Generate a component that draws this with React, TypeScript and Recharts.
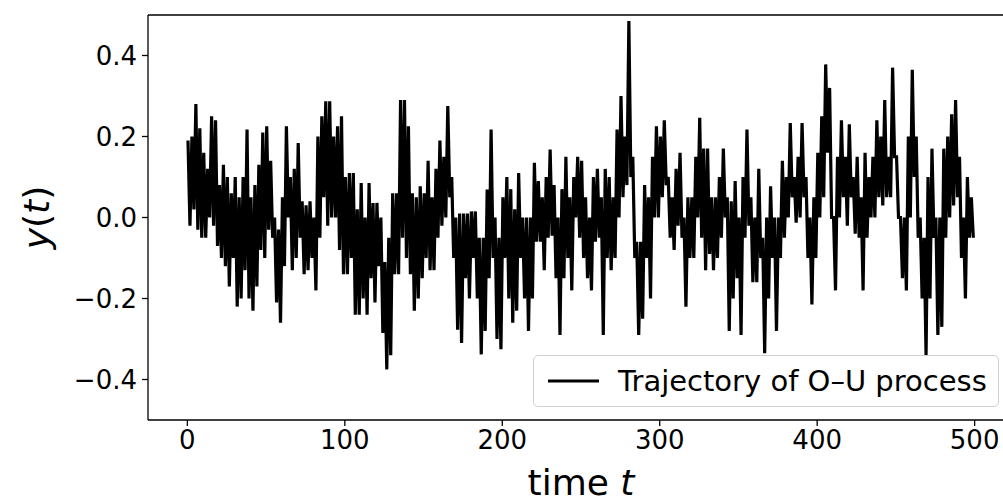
import React from 'react';
import { LineChart, Line, XAxis, YAxis, Legend, Label, ReferenceLine } from 'recharts';

const FONT = '"DejaVu Sans", Verdana, sans-serif';

const X_TICKS = [0, 100, 200, 300, 400, 500];
const Y_TICKS = [-0.4, -0.2, 0.0, 0.2, 0.4];

// the trajectory is too dense to follow stroke by stroke, so it is read as the
// band it covers: highest and lowest y in every 2.5 time units (10 per row = 25 units)
const WINDOW = 2.5;

const upperEnvelope = [
    0.19, 0.2, 0.28, 0.22, 0.16, 0.12, 0.25, 0.24, 0.08, 0.13,
    0.1, 0.06, 0.1, 0.05, 0.1, 0.217, 0.05, 0.08, 0.13, 0.21,
    0.225, 0.14, 0.0, -0.03, 0.05, 0.225, 0.1, 0.12, 0.184, 0.04,
    0.03, 0.04, 0.0, 0.2, 0.25, 0.287, 0.287, 0.2, 0.225, 0.25,
    0.1, 0.11, 0.11, 0.02, 0.085, 0.0, 0.085, 0.036, 0.036, 0.0,
    -0.11, -0.05, 0.06, 0.06, 0.29, 0.29, 0.225, 0.06, 0.05, 0.077,
    0.06, 0.14, 0.05, 0.12, 0.19, 0.15, 0.275, 0.1, 0.0, 0.01,
    0.01, 0.01, 0.015, 0.015, -0.05, -0.05, 0.069, 0.217, 0.0, -0.05,
    0.05, 0.1, 0.07, 0.02, 0.11, 0.0, 0.0, 0.0, 0.135, 0.09,
    0.05, 0.1, 0.168, 0.08, 0.0, 0.07, 0.15, 0.05, 0.1, 0.15,
    0.14, 0.05, 0.0, 0.1, 0.12, 0.05, 0.12, 0.1, 0.05, 0.217,
    0.3, 0.2, 0.485, 0.15, -0.06, -0.06, 0.08, 0.05, 0.15, 0.225,
    0.2, 0.24, 0.1, 0.05, 0.12, 0.16, 0.0, 0.05, 0.05, 0.15,
    0.246, 0.17, 0.17, 0.05, 0.05, 0.1, 0.17, 0.05, 0.04, 0.09,
    0.0, 0.1, 0.217, 0.05, 0.0, 0.12, -0.05, 0.0, 0.077, 0.0,
    0.0, 0.14, 0.1, 0.233, 0.1, 0.15, 0.233, 0.1, 0.0, 0.05,
    0.16, 0.25, 0.378, 0.32, 0.0, 0.15, 0.24, 0.15, 0.23, 0.1,
    0.15, 0.05, 0.16, 0.1, 0.15, 0.24, 0.2, 0.29, 0.15, 0.37,
    0.15, 0.0, 0.0, 0.2, 0.365, 0.2, 0.0, -0.05, 0.1, 0.17,
    0.0, 0.0, 0.17, 0.2, 0.255, 0.29, 0.15, 0.0, 0.1, 0.05,
];

const lowerEnvelope = [
    -0.02, 0.02, -0.03, -0.05, -0.05, 0.0, -0.02, -0.07, -0.1, -0.12,
    -0.17, -0.1, -0.22, -0.2, -0.13, -0.2, -0.23, -0.17, -0.08, -0.1,
    -0.03, -0.05, -0.21, -0.26, -0.12, 0.0, -0.13, -0.1, -0.05, -0.14,
    -0.13, -0.1, -0.18, -0.05, 0.05, -0.02, 0.0, 0.0, -0.08, -0.14,
    -0.14, -0.1, -0.24, -0.24, -0.2, -0.24, -0.15, -0.21, -0.12, -0.285,
    -0.375, -0.34, -0.14, -0.14, -0.05, -0.1, -0.14, -0.23, -0.2, -0.15,
    -0.1, -0.13, -0.13, -0.05, -0.02, 0.0, 0.05, -0.1, -0.277, -0.31,
    -0.15, -0.2, -0.1, -0.2, -0.338, -0.28, -0.15, -0.1, -0.3, -0.325,
    -0.1, -0.2, -0.26, -0.23, -0.1, -0.2, -0.28, -0.2, -0.06, -0.06,
    -0.13, -0.05, -0.045, -0.15, -0.29, -0.15, -0.1, -0.18, 0.0, -0.05,
    -0.1, -0.15, -0.18, -0.06, -0.05, -0.29, -0.1, -0.13, -0.1, 0.0,
    0.05, 0.08, 0.1, -0.1, -0.29, -0.25, -0.1, -0.2, 0.0, 0.0,
    0.05, 0.08, -0.05, -0.08, -0.02, -0.05, -0.22, -0.1, -0.1, 0.0,
    -0.05, -0.13, -0.09, -0.13, -0.1, -0.05, 0.0, -0.28, -0.2, -0.15,
    -0.29, -0.05, -0.02, -0.16, -0.16, -0.1, -0.335, -0.2, -0.1, -0.28,
    -0.1, -0.05, 0.0, 0.05, -0.013, 0.0, 0.05, -0.1, -0.215, -0.1,
    0.0, 0.05, 0.16, 0.0, -0.18, 0.0, 0.05, -0.02, 0.05, -0.04,
    -0.05, -0.18, -0.05, 0.0, 0.0, 0.05, 0.03, 0.05, 0.05, 0.15,
    0.0, -0.15, -0.18, 0.0, 0.1, -0.05, -0.2, -0.34, -0.2, -0.05,
    -0.29, -0.27, -0.05, 0.0, 0.03, 0.05, -0.1, -0.2, -0.05, -0.05,
];

// the path runs up and down through each window, like the noisy trace does
const data = upperEnvelope.flatMap((hi, i) => [
    { t: i * WINDOW + 0.4, y: hi },
    { t: i * WINDOW + 1.65, y: lowerEnvelope[i] },
]);

const fmtY = (v: number) => v.toFixed(1).replace('-', '\u2212');

const XTitle = ({ viewBox }: any) => {
    const cx = viewBox.x + viewBox.width / 2;
    return (
        <text x={cx} y={495} textAnchor="middle" fontSize={36} fontFamily={FONT} fill="#000">
            time <tspan fontStyle="italic">t</tspan>
        </text>
    );
};

const YTitle = ({ viewBox }: any) => {
    const cx = 36;
    const cy = viewBox.y + viewBox.height / 2;
    return (
        <text
            x={cx}
            y={cy}
            transform={`rotate(-90, ${cx}, ${cy})`}
            textAnchor="middle"
            dominantBaseline="central"
            fontSize={36}
            fontFamily={FONT}
            fill="#000"
        >
            <tspan fontStyle="italic">y</tspan>(<tspan fontStyle="italic">t</tspan>)
        </text>
    );
};

const LegendBox = () => (
    <div
        style={{
            boxSizing: 'border-box',
            width: 466,
            height: 52,
            border: '1px solid #d0d0d0',
            borderRadius: 5,
            background: 'rgba(255,255,255,0.8)',
            display: 'flex',
            alignItems: 'center',
            fontFamily: FONT,
            fontSize: 29,
            color: '#000',
        }}
    >
        <svg width={84} height={10} style={{ flex: 'none' }}>
            <line x1={14} x2={65} y1={5} y2={5} stroke="#000" strokeWidth={3.2} />
        </svg>
        <span style={{ whiteSpace: 'nowrap' }}>Trajectory of O–U process</span>
    </div>
);

export default function App() {
    return (
        <div style={{ position: 'fixed', left: 0, top: 0, width: 1003, height: 502, overflow: 'hidden', background: '#fff' }}>
            <LineChart width={1020} height={502} data={data} margin={{ top: 15, right: 6, bottom: 0, left: 0 }}>
                <XAxis
                    dataKey="t"
                    type="number"
                    domain={[-25, 525]}
                    ticks={X_TICKS}
                    allowDataOverflow
                    height={82}
                    tickSize={6}
                    tickMargin={5}
                    stroke="#000"
                    strokeWidth={1.3}
                    tick={{ fill: '#000', fontSize: 26, fontFamily: FONT }}
                >
                    <Label content={XTitle} />
                </XAxis>
                <YAxis
                    type="number"
                    domain={[-0.5, 0.5]}
                    ticks={Y_TICKS}
                    allowDataOverflow
                    width={148}
                    tickSize={6}
                    tickMargin={5}
                    stroke="#000"
                    strokeWidth={1.3}
                    tickFormatter={fmtY}
                    tick={{ fill: '#000', fontSize: 26, fontFamily: FONT }}
                >
                    <Label content={YTitle} />
                </YAxis>
                <ReferenceLine y={0.5} stroke="#000" strokeWidth={1.3} />
                <Legend
                    layout="vertical"
                    align="center"
                    verticalAlign="middle"
                    content={LegendBox}
                    wrapperStyle={{ left: 533, top: 355, width: 466, height: 52 }}
                />
                <Line
                    type="linear"
                    dataKey="y"
                    stroke="#000"
                    strokeWidth={3.2}
                    dot={false}
                    isAnimationActive={false}
                    name="Trajectory of O–U process"
                />
            </LineChart>
        </div>
    );
}
